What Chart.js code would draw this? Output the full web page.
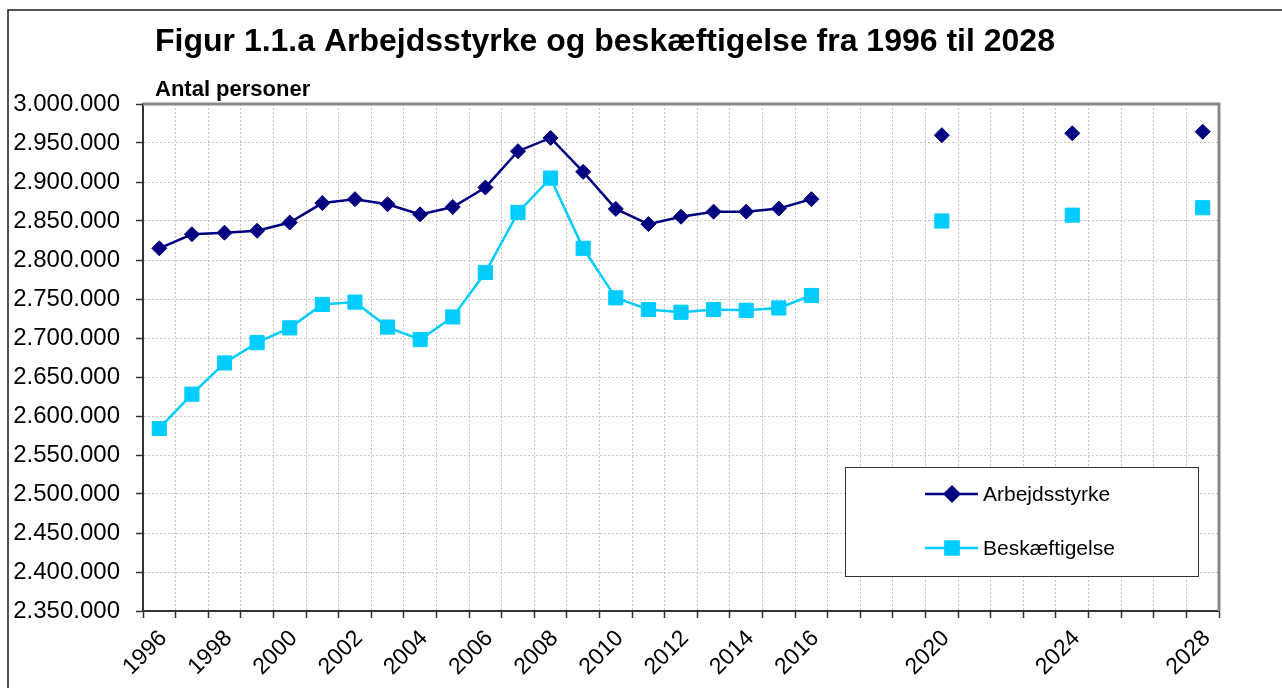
<!DOCTYPE html>
<html lang="da">
<head>
<meta charset="utf-8">
<title>Figur 1.1.a</title>
<script src="https://cdn.jsdelivr.net/npm/chart.js@4.4.1/dist/chart.umd.min.js"></script>
<style>
  html, body { margin: 0; padding: 0; background: #fff; }
  #wrap { position: relative; width: 1282px; height: 688px; }
</style>
</head>
<body>
<div id="wrap"><canvas id="chart"></canvas></div>
<script>
// Tekster
const TITLE = "Figur 1.1.a Arbejdsstyrke og beskæftigelse fra 1996 til 2028";
const Y_TITLE = "Antal personer";
const FONT = "'Liberation Sans', Arial, Helvetica, sans-serif";

// Kategorier: et år pr. kategori, 1996-2028
const years = [
  "1996", "1997", "1998", "1999", "2000", "2001", "2002", "2003", "2004", "2005",
  "2006", "2007", "2008", "2009", "2010", "2011", "2012", "2013", "2014", "2015",
  "2016", "2017", "2018", "2019", "2020", "2021", "2022", "2023", "2024", "2025",
  "2026", "2027", "2028"
];

// Kun disse år får en etiket på x-aksen
const shownYears = [
  "1996", "1998", "2000", "2002", "2004", "2006", "2008", "2010", "2012", "2014",
  "2016", "2020", "2024", "2028"
];

// Serier (antal personer), null = ingen observation
const arbejdsstyrke = [
  2815000, 2833000, 2835000, 2837500, 2848000, 2873000, 2878000, 2871500, 2858500, 2868000,
  2893000, 2939500, 2956500, 2913000, 2865500, 2846000, 2855500, 2862000, 2862000, 2866000,
  2878000, null, null, null, 2960000, null, null, null, 2962500, null,
  null, null, 2964500
];

const beskaeftigelse = [
  2584000, 2628000, 2668000, 2694000, 2713000, 2743000, 2746000, 2714000, 2698000, 2727000,
  2784000, 2861000, 2905000, 2815000, 2751500, 2736500, 2733000, 2736500, 2735500, 2738500,
  2754500, null, null, null, 2850000, null, null, null, 2857500, null,
  null, null, 2867000
];

// Y-aksens inddeling
const Y_MIN = 2350000;
const Y_MAX = 3000000;
const Y_STEP = 50000;

// Tal med punktum som tusindtalsseparator
function formatNumber(value) {
  return String(Math.round(value)).replace(/\B(?=(\d{3})+(?!\d))/g, ".");
}

// Ramme, titler, kant om plotområdet og legende
const figurePlugin = {
  id: "figur",
  beforeDraw(chart) {
    const ctx = chart.ctx;
    ctx.save();
    ctx.fillStyle = "#fff";
    ctx.fillRect(0, 0, chart.width, chart.height);

    // ydre ramme (venstre og top)
    ctx.strokeStyle = "#1a1a1a";
    ctx.lineWidth = 1.5;
    ctx.beginPath();
    ctx.moveTo(8, chart.height);
    ctx.lineTo(8, 10);
    ctx.lineTo(chart.width, 10);
    ctx.stroke();

    // titler
    ctx.fillStyle = "#000";
    ctx.textBaseline = "alphabetic";
    ctx.textAlign = "left";
    ctx.font = "bold 32px " + FONT;
    ctx.fillText(TITLE, 155, 51);
    ctx.font = "bold 22px " + FONT;
    ctx.fillText(Y_TITLE, 155, 96);
    ctx.restore();
  },
  beforeDatasetsDraw(chart) {
    const { left, top, right, bottom } = chart.chartArea;
    const ctx = chart.ctx;
    ctx.save();
    ctx.strokeStyle = "#888";
    ctx.lineWidth = 3;
    ctx.beginPath();
    ctx.moveTo(left, top);
    ctx.lineTo(right, top);
    ctx.lineTo(right, bottom);
    ctx.stroke();
    ctx.restore();
  },
  afterDatasetsDraw(chart) {
    const ctx = chart.ctx;
    const box = { x: 845, y: 467, w: 353, h: 109 };
    ctx.save();
    ctx.fillStyle = "#fff";
    ctx.fillRect(box.x, box.y, box.w, box.h);
    ctx.strokeStyle = "#333";
    ctx.lineWidth = 1;
    ctx.strokeRect(box.x + 0.5, box.y + 0.5, box.w, box.h);

    const rowY = [494, 548];
    chart.data.datasets.forEach((ds, i) => {
      const y = rowY[i];
      ctx.strokeStyle = ds.borderColor;
      ctx.lineWidth = ds.borderWidth;
      ctx.beginPath();
      ctx.moveTo(925, y);
      ctx.lineTo(978, y);
      ctx.stroke();
      Chart.helpers.drawPoint(ctx, {
        pointStyle: ds.pointStyle,
        radius: ds.legendRadius,
        borderWidth: 1,
        rotation: 0
      }, 952, y);
      ctx.fillStyle = ds.pointBackgroundColor;
      ctx.strokeStyle = ds.pointBorderColor;
      ctx.fill();
      ctx.stroke();

      ctx.fillStyle = "#000";
      ctx.font = "21px " + FONT;
      ctx.textBaseline = "middle";
      ctx.textAlign = "left";
      ctx.fillText(ds.label, 983, y + 1);
    });
    ctx.restore();
  }
};

const ctx = document.getElementById("chart").getContext("2d");
new Chart(ctx, {
  type: "line",
  data: {
    labels: years,
    datasets: [
      {
        label: "Arbejdsstyrke",
        data: arbejdsstyrke,
        borderColor: "#000080",
        backgroundColor: "#000080",
        borderWidth: 2.5,
        pointStyle: "rectRot",
        pointRadius: 7.5,
        pointHoverRadius: 7.5,
        pointBackgroundColor: "#000080",
        pointBorderColor: "#000080",
        pointBorderWidth: 1,
        legendRadius: 7,
        spanGaps: false,
        tension: 0
      },
      {
        label: "Beskæftigelse",
        data: beskaeftigelse,
        borderColor: "#00CCFF",
        backgroundColor: "#00CCFF",
        borderWidth: 2.5,
        pointStyle: "rect",
        pointRadius: 10,
        pointHoverRadius: 10,
        pointBackgroundColor: "#00CCFF",
        pointBorderColor: "#00CCFF",
        pointBorderWidth: 1,
        legendRadius: 9,
        spanGaps: false,
        tension: 0
      }
    ]
  },
  options: {
    responsive: true,
    maintainAspectRatio: false,
    animation: false,
    layout: {
      padding: { left: 8, top: 104, right: 63, bottom: 0 }
    },
    scales: {
      x: {
        type: "category",
        offset: true,
        grid: {
          offset: true,
          color: "#c4c4c4",
          lineWidth: 1,
          tickColor: "#333",
          tickLength: 7,
          tickWidth: 1.5,
          tickBorderDash: []
        },
        border: { color: "#333", width: 2, dash: [2, 2] },
        ticks: {
          autoSkip: false,
          minRotation: 45,
          maxRotation: 45,
          padding: 7,
          labelOffset: 4,
          color: "#000",
          font: { family: FONT, size: 23 },
          callback: function (value) {
            const label = this.getLabelForValue(value);
            return shownYears.includes(label) ? label : "";
          }
        },
        afterFit: (scale) => { scale.height = 77; }
      },
      y: {
        min: Y_MIN,
        max: Y_MAX,
        grid: {
          color: "#c4c4c4",
          lineWidth: 1,
          tickColor: "#333",
          tickLength: 7,
          tickWidth: 1.5,
          tickBorderDash: []
        },
        border: { color: "#333", width: 2, dash: [2, 2] },
        ticks: {
          stepSize: Y_STEP,
          padding: 16,
          color: "#000",
          font: { family: FONT, size: 24 },
          callback: (value) => formatNumber(value)
        },
        afterFit: (scale) => { scale.width = 135; }
      }
    },
    plugins: {
      legend: { display: false },
      title: { display: false },
      tooltip: { enabled: false }
    }
  },
  plugins: [figurePlugin]
});
</script>
</body>
</html>
